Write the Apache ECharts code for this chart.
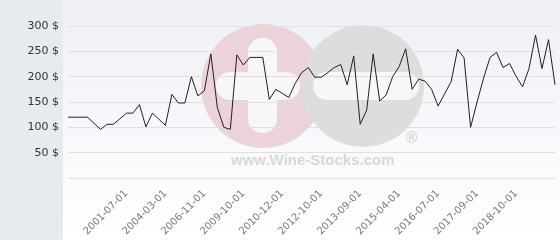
<!DOCTYPE html>
<html>
<head>
<meta charset="utf-8">
<script src="https://cdn.jsdelivr.net/npm/echarts@6/dist/echarts.min.js"></script>
<style>html,body{margin:0;padding:0;background:#fff;}#c{width:560px;height:240px;}</style>
</head>
<body>
<div id="c"></div>
<script>
var dates = [
'1999-03-01','1999-07-01','1999-11-01','2000-02-01','2000-05-01','2000-09-01','2000-12-01','2001-02-01','2001-04-01',
'2001-07-01','2001-12-01','2002-05-01','2002-10-01','2003-03-01','2003-09-01',
'2004-03-01','2004-09-01','2005-02-01','2005-06-01','2005-11-01','2006-05-01',
'2006-11-01','2007-05-01','2007-11-01','2008-04-01','2008-09-01','2009-04-01',
'2009-10-01','2009-12-01','2010-02-01','2010-05-01','2010-07-01','2010-10-01',
'2010-12-01','2011-03-01','2011-06-01','2011-09-01','2012-01-01','2012-06-01',
'2012-10-01','2012-12-01','2013-02-01','2013-04-01','2013-06-01','2013-07-01',
'2013-09-01','2013-12-01','2014-03-01','2014-06-01','2014-09-01','2014-12-01',
'2015-04-01','2015-06-01','2015-08-01','2015-11-01','2016-01-01','2016-04-01',
'2016-07-01','2016-09-01','2016-11-01','2017-01-01','2017-04-01','2017-06-01',
'2017-09-01','2017-11-01','2018-01-01','2018-03-01','2018-05-01','2018-07-01',
'2018-10-01','2018-12-01','2019-02-01','2019-04-01','2019-06-01','2019-09-01','2019-11-01'
];
var prices = [
120,120,120,120,108,96,106,106,117,128,
128,145,101,128,116,104,165,148,148,200,
162,172,245,139,100,96,243,223,238,238,
238,155,175,167,159,187,208,218,199,199,
208,218,224,184,241,106,134,245,152,164,
200,220,255,175,195,191,175,142,166,190,
254,237,100,150,197,238,248,218,226,201,
180,216,282,216,273,184
];
var shownLabels = ['2001-07-01','2004-03-01','2006-11-01','2009-10-01','2010-12-01','2012-10-01','2013-09-01','2015-04-01','2016-07-01','2017-09-01','2018-10-01'];
var yTicks = [0, 50, 100, 150, 200, 250, 300];

var chart = echarts.init(document.getElementById('c'), null, {renderer: 'canvas'});
chart.setOption({
  animation: false,
  backgroundColor: '#ffffff',
  graphic: [
    {type: 'rect', z: -10, silent: true, shape: {x: 63, y: 0, width: 497, height: 240},
     style: {fill: new echarts.graphic.LinearGradient(0, 0, 0, 1, [{offset: 0, color: '#eef0f6'}, {offset: 1, color: '#ffffff'}])}},
    {type: 'rect', z: -10, silent: true, shape: {x: 0, y: 0, width: 63, height: 240}, style: {fill: '#e7ebee'}},
    {type: 'circle', z: -9, silent: true, shape: {cx: 263, cy: 86, r: 62}, style: {fill: '#ecd3d9'}},
    {type: 'circle', z: -9, silent: true, shape: {cx: 363, cy: 86, r: 61}, style: {fill: '#dddddd'}},
    {type: 'rect', z: -8, silent: true, shape: {x: 248, y: 38, width: 29, height: 95, r: 14}, style: {fill: '#f7f7f9'}},
    {type: 'rect', z: -8, silent: true, shape: {x: 216, y: 72, width: 84, height: 28, r: 14}, style: {fill: '#f7f7f9'}},
    {type: 'rect', z: -8, silent: true, shape: {x: 313, y: 72, width: 106, height: 28, r: 14}, style: {fill: '#f7f7f9'}},
    {type: 'text', z: -8, silent: true, left: 231, top: 153, style: {text: 'www.Wine-Stocks.com', fill: '#d8d8d8', font: 'bold 15px "Liberation Sans"'}},
    {type: 'text', z: -8, silent: true, left: 404, top: 132, style: {text: '®', fill: '#d0d0d0', font: '15px "DejaVu Sans"'}}
  ],
  grid: {left: 68, right: 5, top: 26, bottom: 62},
  xAxis: {
    type: 'category',
    data: dates,
    boundaryGap: false,
    axisLine: {show: false},
    axisTick: {show: false},
    splitLine: {show: false},
    axisLabel: {
      rotate: 45,
      margin: 14,
      color: '#777777',
      fontFamily: 'DejaVu Sans',
      fontSize: 10,
      interval: function (idx, val) { return shownLabels.indexOf(val) >= 0; }
    }
  },
  yAxis: {
    type: 'value',
    min: yTicks[0],
    max: yTicks[yTicks.length - 1],
    interval: 50,
    axisLine: {show: false},
    axisTick: {show: false},
    splitLine: {lineStyle: {color: '#e0e0e0', width: 1}},
    axisLabel: {
      margin: 9,
      color: '#333333',
      fontFamily: 'DejaVu Sans',
      fontSize: 11,
      formatter: function (v) { return v === 0 ? '' : v + ' $'; }
    }
  },
  series: [{
    type: 'line',
    data: prices,
    symbol: 'none',
    lineStyle: {color: '#2b1a20', width: 1}
  }]
});
</script>
</body>
</html>
